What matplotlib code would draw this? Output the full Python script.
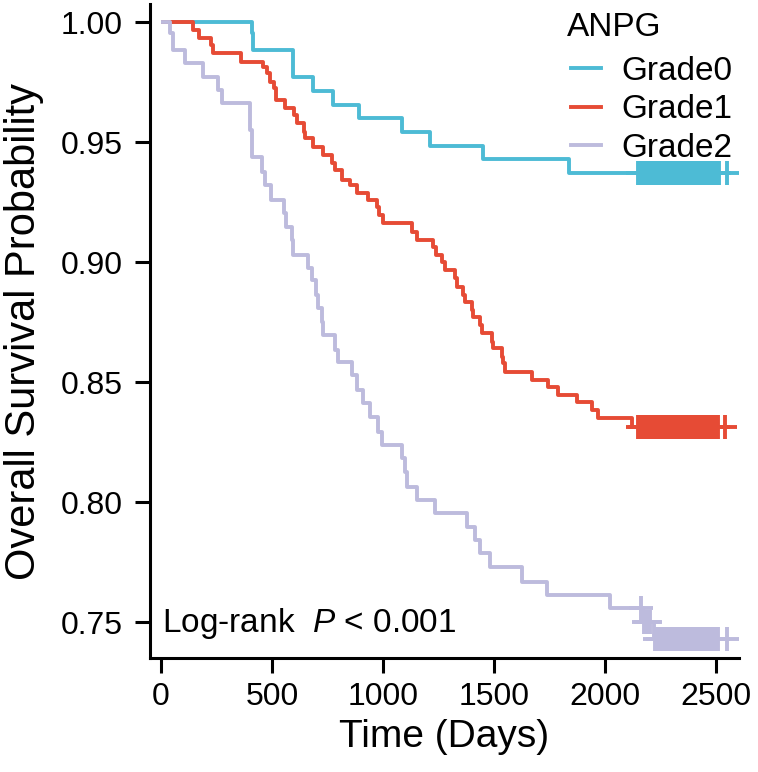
import numpy as np
import matplotlib
matplotlib.use('Agg')
import matplotlib.pyplot as plt
from matplotlib.lines import Line2D

plt.rcParams['font.family'] = ['Liberation Sans', 'DejaVu Sans']
plt.rcParams['mathtext.fontset'] = 'custom'
plt.rcParams['mathtext.it'] = 'Liberation Sans:italic'
plt.rcParams['mathtext.rm'] = 'Liberation Sans'

# ---------------- data ----------------
group_names = ['Grade0', 'Grade1', 'Grade2']
group_colors = ['#4DBBD5', '#E64B35', '#BDBBDD']
legend_title = 'ANPG'

g0_event_days = [408, 413, 595, 683, 773, 893, 1084, 1212, 1452, 1839]
g0_surv = [0.9954, 0.9883, 0.977, 0.9714, 0.9654, 0.9599, 0.954, 0.9485, 0.9429, 0.937]
g0_censor_days = [2150, 2161, 2172, 2184, 2195, 2207, 2218, 2229, 2241, 2252, 2263,
                  2275, 2286, 2297, 2309, 2320, 2332, 2343, 2354, 2366, 2377, 2389,
                  2400, 2411, 2423, 2434, 2445, 2457, 2468, 2480, 2491, 2503, 2514, 2548]

g1_event_days = [143, 173, 225, 236, 359, 461, 476, 491, 509, 518, 559, 599, 611, 644,
                 649, 686, 731, 769, 784, 814, 851, 881, 934, 971, 983, 1001, 1129,
                 1152, 1227, 1239, 1264, 1279, 1324, 1332, 1362, 1369, 1399, 1407,
                 1437, 1445, 1489, 1497, 1535, 1542, 1550, 1670, 1745, 1790, 1872,
                 1940, 1970, 2120]
g1_surv = [0.9967, 0.9935, 0.9904, 0.987, 0.9835, 0.9814, 0.9786, 0.9751, 0.9724,
           0.9675, 0.964, 0.9612, 0.9578, 0.9543, 0.9515, 0.948, 0.9446, 0.9411,
           0.9383, 0.9342, 0.932, 0.9286, 0.9258, 0.923, 0.9196, 0.9161, 0.9126,
           0.9092, 0.9064, 0.9029, 0.9001, 0.8967, 0.8932, 0.8897, 0.8862, 0.8835,
           0.88, 0.8772, 0.8737, 0.8703, 0.8668, 0.864, 0.8605, 0.8578, 0.8543,
           0.8508, 0.848, 0.8446, 0.8418, 0.8383, 0.8349, 0.8314]
g1_censor_days = [2149, 2160, 2171, 2183, 2194, 2206, 2217, 2228, 2240, 2251, 2262,
                  2274, 2285, 2296, 2308, 2319, 2331, 2342, 2353, 2365, 2376, 2388,
                  2399, 2410, 2422, 2433, 2444, 2456, 2467, 2479, 2490, 2500, 2509, 2541]

g2_event_days = [41, 56, 108, 188, 258, 273, 401, 408, 453, 468, 495, 555, 563, 589,
                 596, 661, 679, 698, 709, 724, 731, 784, 796, 859, 881, 911, 941, 979,
                 994, 1084, 1099, 1107, 1152, 1234, 1377, 1414, 1437, 1482, 1625,
                 1737, 2023, 2172, 2222]
g2_surv = [0.9953, 0.9883, 0.9828, 0.9772, 0.9717, 0.9661, 0.955, 0.9439, 0.9376,
           0.932, 0.9258, 0.9203, 0.9147, 0.9092, 0.9029, 0.8974, 0.8925, 0.8862,
           0.8807, 0.8751, 0.8696, 0.8633, 0.8585, 0.8529, 0.8467, 0.8411, 0.8355,
           0.8293, 0.8238, 0.8182, 0.8126, 0.8064, 0.8008, 0.7953, 0.7897, 0.7842,
           0.7786, 0.773, 0.7668, 0.7613, 0.7557, 0.75, 0.7428]
g2_censor_days = [2162, 2176, 2183, 2190, 2198, 2205, 2227, 2238, 2249, 2261, 2272,
                  2283, 2295, 2306, 2318, 2329, 2340, 2352, 2363, 2374, 2386, 2397,
                  2409, 2420, 2431, 2443, 2454, 2468, 2479, 2490, 2501, 2510, 2548]

x_ticks = [0, 500, 1000, 1500, 2000, 2500]
y_ticks = [0.75, 0.80, 0.85, 0.90, 0.95, 1.00]
x_label = 'Time (Days)'
y_label = 'Overall Survival Probability'
pvalue_text = r'Log-rank  $\it{P}$ < 0.001'

# ---------------- plot ----------------
W, H = 758, 772
fig = plt.figure(figsize=(W / 100, H / 100), dpi=100)
ax_l, ax_r, ax_t, ax_b = 149.5, 739, 4, 658
ax = fig.add_axes([ax_l / W, 1 - ax_b / H, (ax_r - ax_l) / W, (ax_b - ax_t) / H])

series = [
    (g0_event_days, g0_surv, g0_censor_days),
    (g1_event_days, g1_surv, g1_censor_days),
    (g2_event_days, g2_surv, g2_censor_days),
]

lw = 2.8
handles = []
for (ev, sv, cens), name, col in zip(series, group_names, group_colors):
    end_t = max(max(ev), max(cens))
    t = np.array([0] + list(ev) + [end_t], dtype=float)
    s = np.array([1.0] + list(sv) + [sv[-1]], dtype=float)
    ax.step(t, s, where='post', color=col, lw=lw, solid_capstyle='butt', zorder=3)
    ct = np.array(cens, dtype=float)
    idx = np.searchsorted(t, ct, side='right') - 1
    ax.plot(ct, s[idx], linestyle='none', marker='+', markersize=17,
            markeredgewidth=2.8, color=col, zorder=3)
    handles.append(Line2D([0], [0], color=col, lw=lw))

ax.set_xlim(-52, 2604)
ax.set_ylim(0.735, 1.0075)
ax.set_xticks(x_ticks)
ax.set_yticks(y_ticks)
ax.set_xticklabels([str(v) for v in x_ticks])
ax.set_yticklabels(['%.2f' % v for v in y_ticks])

for sp in ['top', 'right']:
    ax.spines[sp].set_visible(False)
for sp in ['left', 'bottom']:
    ax.spines[sp].set_linewidth(2.2)
    ax.spines[sp].set_color('black')
ax.tick_params(axis='both', which='major', length=10.5, width=2.2, colors='black',
               labelsize=23)
ax.tick_params(axis='y', pad=9)
ax.tick_params(axis='x', pad=7)

ax.set_xlabel(x_label, fontsize=28, labelpad=5)
ax.set_ylabel(y_label, fontsize=30, labelpad=12)

ax.text(0.021, 0.04, pvalue_text, transform=ax.transAxes, fontsize=24,
        ha='left', va='baseline')

fig.text(567 / W, 1 - 28 / H, legend_title, fontsize=24, ha='left', va='center')
leg = ax.legend(handles, group_names, frameon=False,
                loc='upper left', bbox_to_anchor=(571 / W, 1 - 56 / H),
                bbox_transform=fig.transFigure, fontsize=24,
                handlelength=0.9, handletextpad=0.6, labelspacing=0.22,
                borderpad=0, borderaxespad=0)

fig.savefig('out.png', dpi=100, facecolor='white')
